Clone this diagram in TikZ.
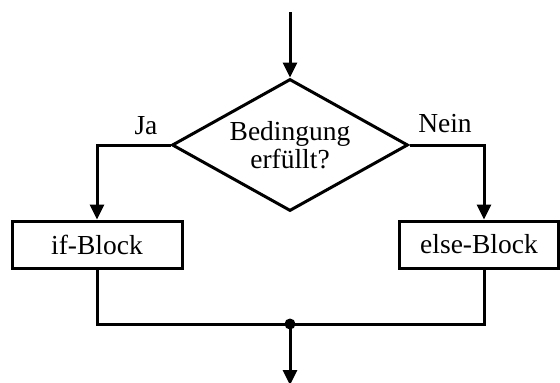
\documentclass[tikz,border=0pt]{standalone}
\usepackage{fontspec}
\setmainfont{Liberation Serif}
\usetikzlibrary{shapes.geometric,arrows.meta}
\begin{document}
\begin{tikzpicture}[x=1pt,y=-1pt,
  line width=3pt,
  txt/.style={font=\fontsize{27.5}{28}\selectfont},
  flow/.style={-{Triangle[length=15pt,width=14pt]}},
  blockbox/.style={draw,rectangle,minimum height=47pt,inner sep=0pt,txt},
  decision/.style={draw,diamond,aspect=1.788,minimum width=236pt,minimum height=132pt,inner sep=0pt,align=center,txt},
  tag/.style={anchor=base,inner sep=0pt,txt}]
\useasboundingbox (0,0) rectangle (560,383);

% decision and the two branches
\node[decision] (dec) at (290,145) {Bedingung\\erfüllt?};
\node[blockbox,minimum width=170pt] (ifb) at (97,244.5) {if-Block};
\node[blockbox,minimum width=159pt] (elseb) at (479,244.5) {else-Block};

% branch labels
\node[tag] (ja) at (146,134) {Ja};
\node[tag] (nein) at (445,132) {Nein};

% helper points
\coordinate (in) at (290,12);
\coordinate (rcol) at (484,145);
\node[circle,fill,inner sep=0pt,minimum size=11pt] (mrg) at (290,324) {};
\coordinate (out) at (290,385);

% connectors
\draw[flow] (in) -- (dec.north);
\draw[flow] (dec.west) -| (ifb.north);
\draw[flow] (dec.east) -- (rcol) -- (rcol |- elseb.north);
\draw (ifb.south) |- (mrg.center) -| (rcol |- elseb.south);
\draw[flow] (mrg.center) -- (out);
\end{tikzpicture}
\end{document}
